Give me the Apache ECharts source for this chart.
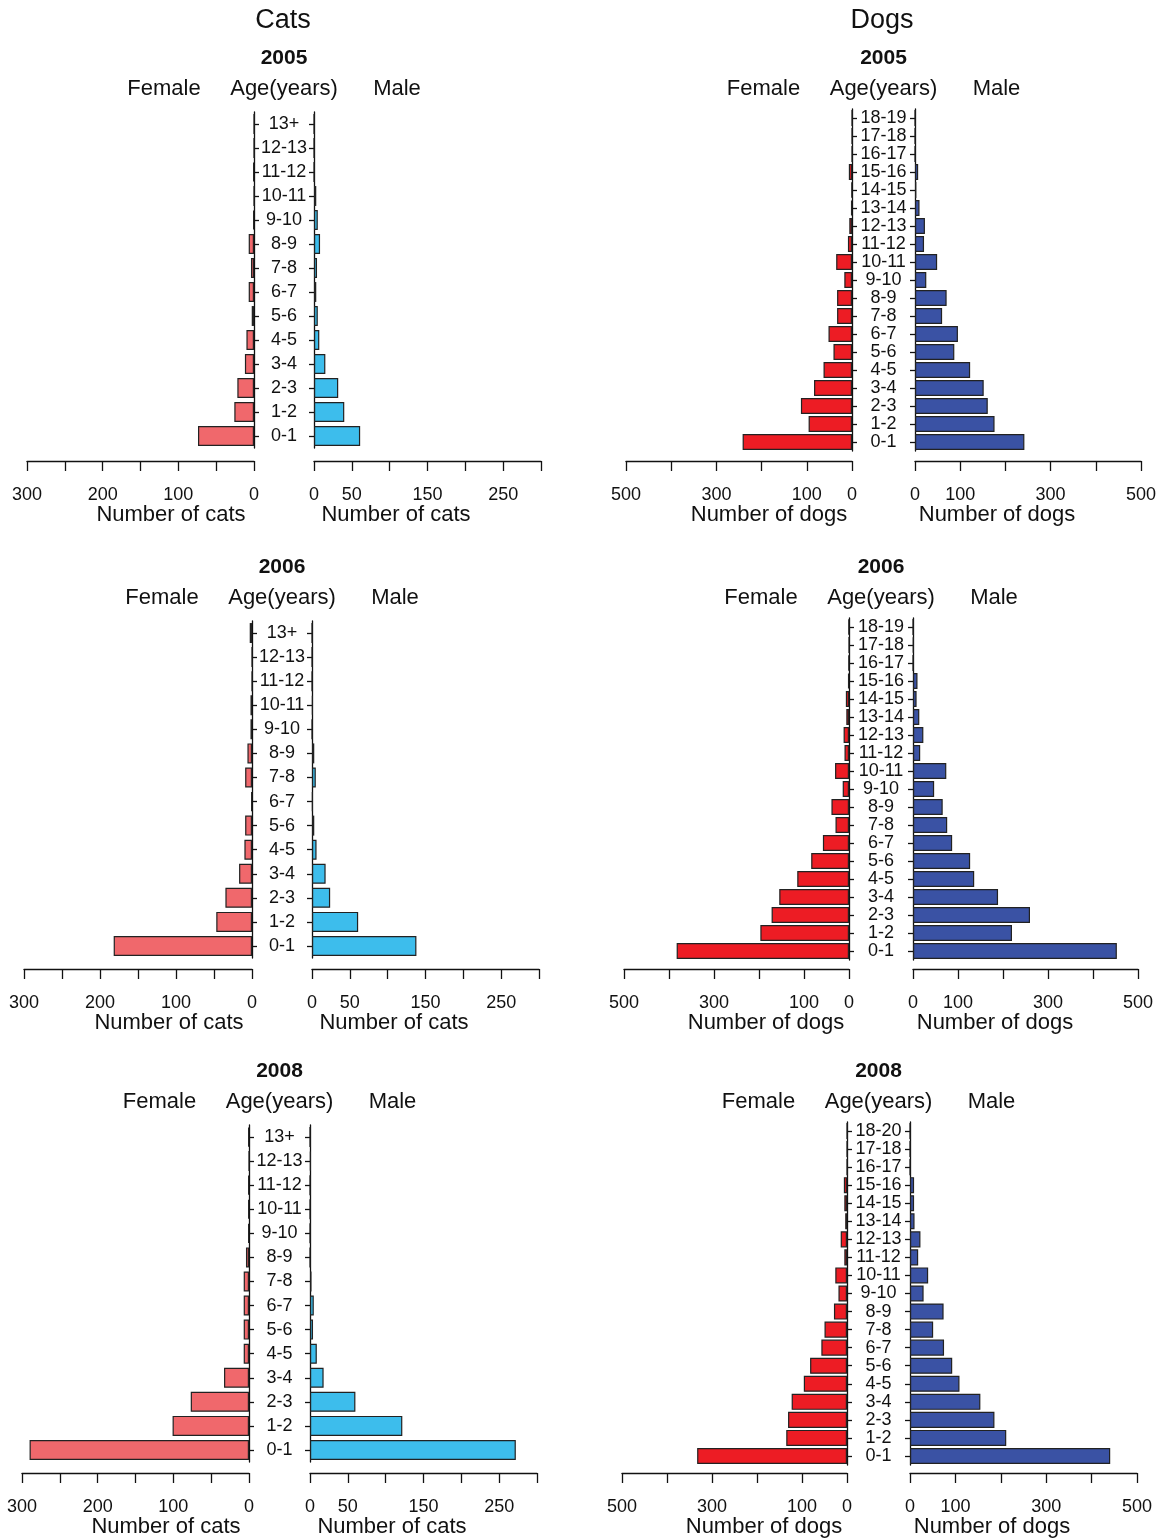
<!DOCTYPE html>
<html>
<head>
<meta charset="utf-8">
<title>Cats and dogs age pyramids</title>
<script src="https://cdn.jsdelivr.net/npm/echarts@6/dist/echarts.min.js"></script>
<style>
  html, body { margin: 0; padding: 0; background: #fff; }
  #chart { width: 1160px; height: 1538px; }
</style>
</head>
<body>
<div id="chart"></div>
<script>
// age classes (bottom to top)
const catAges = ['0-1', '1-2', '2-3', '3-4', '4-5', '5-6', '6-7', '7-8', '8-9', '9-10', '10-11', '11-12', '12-13', '13+'];
const dogAges = ['0-1', '1-2', '2-3', '3-4', '4-5', '5-6', '6-7', '7-8', '8-9', '9-10', '10-11', '11-12', '12-13', '13-14', '14-15', '15-16', '16-17', '17-18', '18-19'];
const dogAges2008 = ['0-1', '1-2', '2-3', '3-4', '4-5', '5-6', '6-7', '7-8', '8-9', '9-10', '10-11', '11-12', '12-13', '13-14', '14-15', '15-16', '16-17', '17-18', '18-20'];

// counts per age class
const catFemale2005 = [74, 26, 22, 12, 10, 3, 7, 4, 7, 1, 0, 1, 0, 0];
const catMale2005 = [61, 40, 32, 15, 7, 5, 3, 4, 8, 5, 3, 0, 0, 0];
const catFemale2006 = [182, 47, 35, 17, 10, 9, 1, 9, 6, 2, 2, 0, 0, 3];
const catMale2006 = [138, 61, 24, 18, 6, 3, 1, 5, 3, 0, 1, 0, 0, 0];
const catFemale2008 = [290, 101, 77, 33, 7, 7, 7, 7, 4, 1, 1, 1, 0, 1];
const catMale2008 = [272, 122, 60, 18, 9, 4, 5, 2, 0, 0, 0, 0, 1, 0];

const dogFemale2005 = [242, 96, 113, 84, 63, 41, 52, 33, 33, 17, 35, 9, 6, 2, 1, 7, 0, 0, 0];
const dogMale2005 = [242, 176, 161, 152, 122, 87, 95, 60, 70, 25, 49, 20, 22, 10, 3, 7, 0, 0, 0];
const dogFemale2006 = [383, 197, 172, 155, 115, 84, 58, 30, 39, 14, 31, 10, 12, 6, 7, 2, 1, 0, 1];
const dogMale2006 = [453, 220, 260, 189, 136, 127, 87, 76, 66, 47, 74, 16, 23, 14, 8, 10, 0, 1, 0];
const dogFemale2008 = [333, 135, 131, 123, 96, 82, 57, 50, 29, 19, 26, 6, 14, 4, 6, 7, 0, 0, 0];
const dogMale2008 = [441, 212, 186, 155, 109, 93, 75, 51, 74, 30, 40, 18, 23, 10, 9, 9, 0, 0, 0];

// axis tick labels that are printed
const catFemaleTicks = [0, 100, 200, 300];
const catMaleTicks = [0, 50, 150, 250];
const dogFemaleTicks = [0, 100, 300, 500];
const dogMaleTicks = [0, 100, 300, 500];

const FONT = '"Liberation Sans", Arial, Helvetica, sans-serif';
const INK = '#111111';

const catStyle = { max: 300, step: 50, fColor: '#f0686c', mColor: '#3dbdec', gap: '17%', fTicks: catFemaleTicks, mTicks: catMaleTicks, unit: 'cats' };
const dogStyle = { max: 500, step: 100, fColor: '#ed1c24', mColor: '#3a52a4', gap: '11%', fTicks: dogFemaleTicks, mTicks: dogMaleTicks, unit: 'dogs' };

// panel layout: female grid [fL, fR], male grid [mL, mR], plot top/height, x axis line y
const panels = [
  { kind: catStyle, year: '2005', ages: catAges, female: catFemale2005, male: catMale2005, fL: 27, fR: 254, mL: 314, mR: 541, top: 112, h: 336, axisY: 461, head: 89, yr: 58 },
  { kind: catStyle, year: '2006', ages: catAges, female: catFemale2006, male: catMale2006, fL: 24, fR: 252, mL: 312, mR: 539, top: 621, h: 337, axisY: 969, head: 598, yr: 567 },
  { kind: catStyle, year: '2008', ages: catAges, female: catFemale2008, male: catMale2008, fL: 22, fR: 249, mL: 310, mR: 537, top: 1125, h: 337, axisY: 1473, head: 1102, yr: 1071 },
  { kind: dogStyle, year: '2005', ages: dogAges, female: dogFemale2005, male: dogMale2005, fL: 626, fR: 852, mL: 915, mR: 1141, top: 109, h: 342, axisY: 461, head: 89, yr: 58 },
  { kind: dogStyle, year: '2006', ages: dogAges, female: dogFemale2006, male: dogMale2006, fL: 624, fR: 849, mL: 913, mR: 1138, top: 618, h: 342, axisY: 969, head: 598, yr: 567 },
  { kind: dogStyle, year: '2008', ages: dogAges2008, female: dogFemale2008, male: dogMale2008, fL: 622, fR: 847, mL: 910, mR: 1137, top: 1122, h: 343, axisY: 1473, head: 1102, yr: 1071 }
];

const grid = [], xAxis = [], yAxis = [], series = [], texts = [];

function txt(x, y, s, size, bold) {
  texts.push({
    type: 'text', x: x, y: y, silent: true,
    style: {
      text: s, fill: INK, textAlign: 'center', textVerticalAlign: 'middle',
      font: (bold ? 'bold ' : '') + size + 'px ' + FONT
    }
  });
}

panels.forEach(function (p) {
  const k = p.kind;
  const mid = (p.fR + p.mL) / 2;
  const offset = p.axisY - (p.top + p.h);
  ['f', 'm'].forEach(function (side) {
    const isF = side === 'f';
    const idx = grid.length;
    const left = isF ? p.fL : p.mL;
    const right = isF ? p.fR : p.mR;
    const shown = isF ? k.fTicks : k.mTicks;
    grid.push({ left: left, top: p.top, width: right - left, height: p.h, containLabel: false });
    xAxis.push({
      gridIndex: idx, type: 'value', min: 0, max: k.max, interval: k.step,
      inverse: isF, position: 'bottom', offset: offset,
      splitLine: { show: false },
      axisLine: { show: true, lineStyle: { color: INK, width: 1.3 } },
      axisTick: { show: true, inside: false, length: 10, lineStyle: { color: INK, width: 1.3 } },
      axisLabel: {
        margin: 25, fontSize: 18, fontFamily: FONT, color: INK,
        showMinLabel: true, showMaxLabel: true,
        formatter: function (v) { return shown.indexOf(v) >= 0 ? String(v) : ''; }
      }
    });
    yAxis.push({
      gridIndex: idx, type: 'category', data: p.ages,
      position: isF ? 'right' : 'left',
      axisLine: { show: true, lineStyle: { color: INK, width: 1.3 } },
      axisTick: { show: true, alignWithLabel: true, length: 5, lineStyle: { color: INK, width: 1.3 } },
      axisLabel: isF
        ? { show: true, interval: 0, margin: mid - p.fR, align: 'center', fontSize: 18, fontFamily: FONT, color: INK }
        : { show: false }
    });
    series.push({
      type: 'bar', xAxisIndex: idx, yAxisIndex: idx,
      data: isF ? p.female : p.male,
      barCategoryGap: k.gap,
      itemStyle: { color: isF ? k.fColor : k.mColor, borderColor: '#222222', borderWidth: 1.2 },
      silent: true
    });
  });
  // headings
  txt(mid, p.yr, p.year, 21, true);
  txt(mid - 120, p.head, 'Female', 22, false);
  txt(mid, p.head, 'Age(years)', 22, false);
  txt(mid + 113, p.head, 'Male', 22, false);
  // axis titles
  const titleY = p.axisY + 54;
  txt(p.fR - 83, titleY, 'Number of ' + k.unit, 22, false);
  txt(p.mL + 82, titleY, 'Number of ' + k.unit, 22, false);
});

txt(283, 21, 'Cats', 27, false);
txt(882, 21, 'Dogs', 27, false);

const chart = echarts.init(document.getElementById('chart'), null, { renderer: 'canvas' });
chart.setOption({
  backgroundColor: '#ffffff',
  animation: false,
  grid: grid,
  xAxis: xAxis,
  yAxis: yAxis,
  series: series,
  graphic: { elements: texts }
});
</script>
</body>
</html>
